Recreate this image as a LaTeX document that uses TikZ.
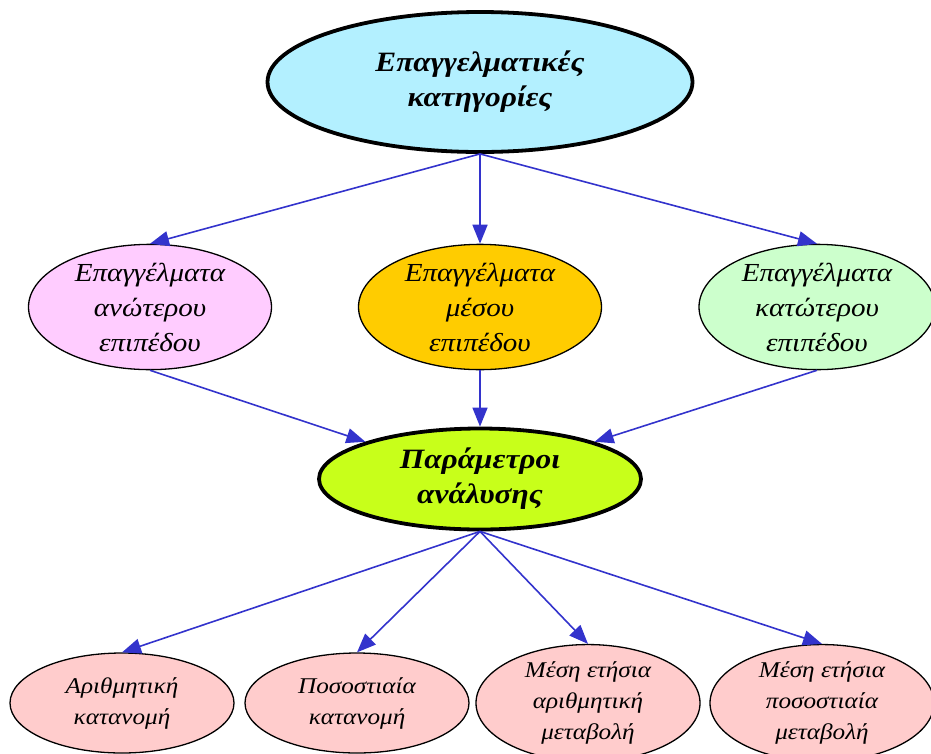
\documentclass[tikz,border=0pt]{standalone}
\usepackage{fontspec}
\setmainfont[FakeStretch=1.12]{Liberation Serif}
\usetikzlibrary{shapes.geometric,arrows.meta}
\definecolor{arrowblue}{HTML}{3333CC}
\definecolor{topfill}{HTML}{B3F0FF}
\definecolor{lfill}{HTML}{FFCCFF}
\definecolor{mfill}{HTML}{FFCC00}
\definecolor{rfill}{HTML}{CCFFCC}
\definecolor{pfill}{HTML}{C8FF1A}
\definecolor{bfill}{HTML}{FFCCCC}
\tikzset{
  bigell/.style={ellipse, draw=black, line width=3.8pt, inner sep=0pt, align=center,
    font=\fontsize{28}{35}\selectfont\bfseries\itshape},
  midell/.style={ellipse, draw=black, line width=1.3pt, inner sep=0pt, align=center,
    minimum width=243pt, minimum height=120pt,
    font=\fontsize{26}{35}\selectfont\itshape},
  botell/.style={ellipse, draw=black, line width=1.3pt, inner sep=0pt, align=center,
    minimum width=224pt, minimum height=100pt,
    font=\fontsize{22.5}{31}\selectfont\itshape},
  conn/.style={draw=arrowblue, line width=1.6pt, -{Triangle[length=19pt,width=15pt]}}
}
\begin{document}
\begin{tikzpicture}[x=1pt,y=-1pt]
\useasboundingbox (0,0) rectangle (931,753);
\clip (0,0) rectangle (931,753);
\node[bigell, fill=topfill, minimum width=425pt, minimum height=140pt] (top) at (480,82) {Επαγγελματικές\\κατηγορίες};
\node[midell, fill=lfill] (l) at (150,307) {Επαγγέλματα\\ανώτερου\\επιπέδου};
\node[midell, fill=mfill] (m) at (480,307) {Επαγγέλματα\\μέσου\\επιπέδου};
\node[midell, fill=rfill, minimum width=236pt] (r) at (817,307) {Επαγγέλματα\\κατώτερου\\επιπέδου};
\node[bigell, fill=pfill, minimum width=322pt, minimum height=101pt] (p) at (480,479) {Παράμετροι\\ανάλυσης};
\node[botell, fill=bfill] (b1) at (122,703) {Αριθμητική\\κατανομή};
\node[botell, fill=bfill] (b2) at (357,703) {Ποσοστιαία\\κατανομή};
\node[botell, fill=bfill] (b3) at (588,703) {Μέση ετήσια\\αριθμητική\\μεταβολή};
\node[botell, fill=bfill] (b4) at (822,703) {Μέση ετήσια\\ποσοστιαία\\μεταβολή};
\draw[conn] (top.south) -- (l.north);
\draw[conn] (top.south) -- (m.north);
\draw[conn] (top.south) -- (r.north);
\draw[conn] (l.south) -- (p.162);
\draw[conn] (m.south) -- (p.north);
\draw[conn] (r.south) -- (p.18);
\draw[conn] (p.south) -- (b1.north);
\draw[conn] (p.south) -- (b2.north);
\draw[conn] (p.south) -- (b3.north);
\draw[conn] (p.south) -- (b4.north);
\end{tikzpicture}
\end{document}
